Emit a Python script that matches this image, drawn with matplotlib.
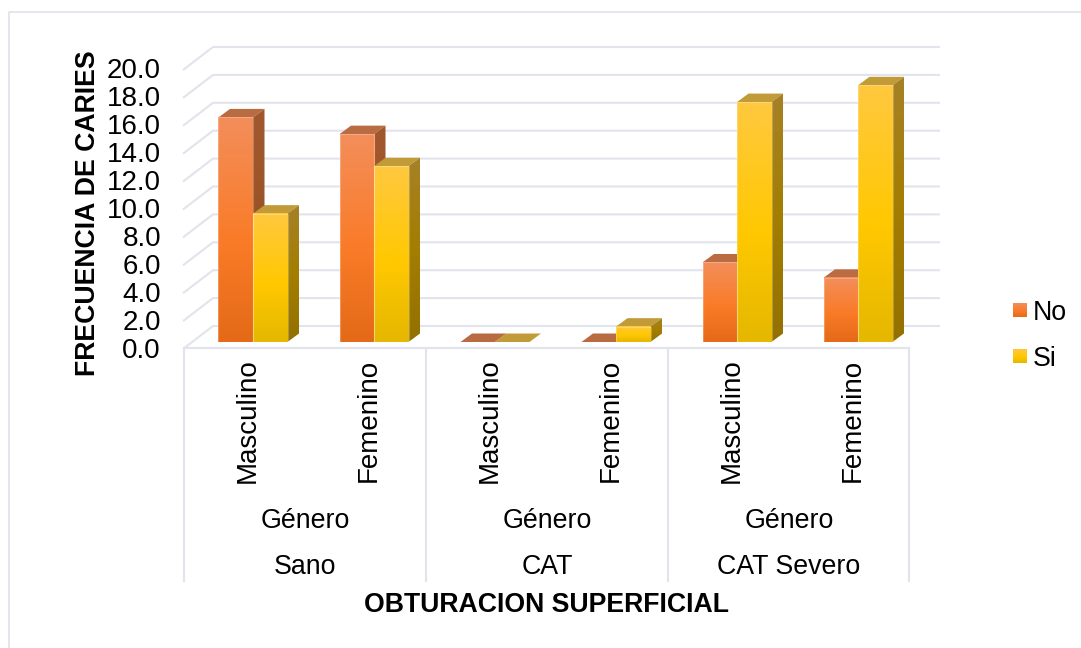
import matplotlib
matplotlib.use('Agg')
import matplotlib.pyplot as plt
from matplotlib.colors import LinearSegmentedColormap
from matplotlib.patches import Polygon, Rectangle
import numpy as np

plt.rcParams['font.family'] = ['Liberation Sans', 'DejaVu Sans']

# data
grupos = ['Sano', 'CAT', 'CAT Severo']
genero = ['Masculino', 'Femenino'] * 3
valores_no = [16.1, 14.9, 0.0, 0.0, 5.7, 4.6]
valores_si = [9.2, 12.6, 0.0, 1.1, 17.2, 18.4]
yticks = [0, 2, 4, 6, 8, 10, 12, 14, 16, 18, 20]

W, H = 1081, 648
PX_X = 121.0     # pixels per category
PX_Y = 13.95     # pixels per unit
X0, Y0 = 253.0, 342.0   # pixel position of category 0, value 0
ANCHO = 34.5 / PX_X
DX, DY = 11.5 / PX_X, 8.5 / PX_Y     # depth of the bars

GRID = '#E1E4EC'
naranja = LinearSegmentedColormap.from_list('n', [(0, '#E46A18'), (0.45, '#FA7B28'), (1, '#F38E5A')])
amarillo = LinearSegmentedColormap.from_list('a', [(0, '#E5B700'), (0.45, '#FFC800'), (1, '#FFC83F')])
lado_a = LinearSegmentedColormap.from_list('la', [(0, '#937100'), (0.5, '#A37E00'), (1, '#A68127')])
lado_n = LinearSegmentedColormap.from_list('ln', [(0, '#92501E'), (1, '#A2582F')])
grad = np.linspace(0, 1, 128).reshape(-1, 1)


def px(x):
    return (x - X0) / PX_X


def py(y):
    return (Y0 - y) / PX_Y


fig = plt.figure(figsize=(W / 100, H / 100), dpi=100)
ax = fig.add_axes([0, 0, 1, 1])
ax.axis('off')

# outer frame, only top and left show
ax.plot([px(9), px(9), px(W)], [py(H), py(12), py(12)], color=GRID, lw=1.3, zorder=1)

# walls: back gridlines and the slanted side lines
for t in yticks:
    yb = py(326 - t * PX_Y)
    yf = py(349 - t * PX_Y)
    ax.plot([px(183), px(213), px(940)], [yf, yb, yb], color=GRID, lw=1.5, solid_capstyle='butt', zorder=1)
    ax.text(px(161), py(350.5 - t * PX_Y), '%.1f' % t, ha='right', va='center', fontsize=20, color='black')

# floor front edge + multilevel separators
ax.plot([px(184), px(909)], [py(348), py(348)], color=GRID, lw=1.5, zorder=1)
for xs in [184, 426, 668, 909]:
    ax.plot([px(xs), px(xs)], [py(348), py(581)], color=GRID, lw=1.5, zorder=1)


def barra(x0, v, cmap, tapa, lado):
    x1 = x0 + ANCHO
    ax.add_patch(Polygon([(x0, v), (x0 + DX, v + DY), (x1 + DX, v + DY), (x1, v)], fc=tapa, ec='none', zorder=3))
    if v > 0:
        ax.imshow(grad, extent=(x1, x1 + DX, 0, v + DY), cmap=lado, origin='lower', aspect='auto', zorder=3,
                  clip_path=Polygon([(x1, 0), (x1 + DX, DY), (x1 + DX, v + DY), (x1, v)], transform=ax.transData))
        ax.imshow(grad, extent=(x0, x1, 0, v), cmap=cmap, origin='lower', aspect='auto', zorder=4)
        ax.add_patch(Rectangle((x0, 0), ANCHO, v, fill=False, ec='#FFFFFF', alpha=0.25, lw=0.8, zorder=5))


# No first so the yellow bar covers its side face
for i in range(6):
    barra(i - ANCHO, valores_no[i], naranja, '#B96B42', lado_n)
    barra(i, valores_si[i], amarillo, '#C19B38', lado_a)

for i, g in enumerate(genero):
    ax.text(i - 0.045, py(420.5), g, rotation=90, ha='center', va='center', fontsize=20, color='black')
for k, g in enumerate(grupos):
    ax.text(2 * k + 0.43, py(521), 'Género', ha='center', va='center', fontsize=19.3, color='black')
    ax.text(2 * k + 0.43, py(567.5), g, ha='center', va='center', fontsize=19.3, color='black')

ax.text(px(547), py(605), 'OBTURACION SUPERFICIAL', ha='center', va='center', fontsize=19.2, fontweight='bold')
ax.text(px(88), py(213), 'FRECUENCIA DE CARIES', rotation=90, ha='center', va='center', fontsize=19.2, fontweight='bold')

# legend
for y, cmap, nombre in [(310, naranja, 'No'), (356, amarillo, 'Si')]:
    ax.imshow(grad, extent=(px(1013), px(1027), py(y + 7), py(y - 7)), cmap=cmap, origin='lower', aspect='auto', zorder=4)
    ax.text(px(1033), py(y + 3), nombre, ha='left', va='center', fontsize=19.3)

ax.set_xlim(px(0), px(W))
ax.set_ylim(py(H), py(0))

fig.savefig('out.png', dpi=100)
